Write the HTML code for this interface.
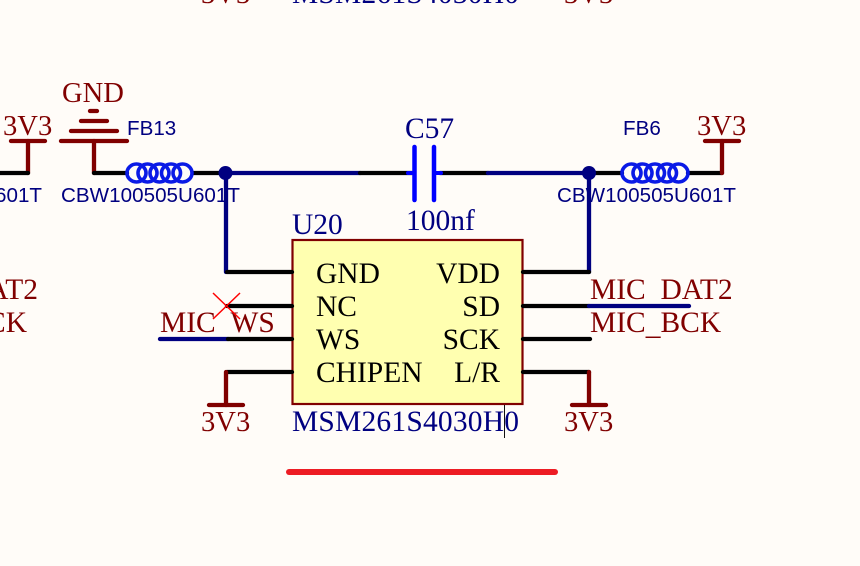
<!DOCTYPE html>
<html>
<head>
<meta charset="utf-8">
<style>
html,body{margin:0;padding:0;background:#fffcf8;width:860px;height:566px;overflow:hidden}
svg{display:block}
.s{font-family:"Liberation Serif",serif;font-size:29.5px}
.p{font-size:28.6px}
.a{font-family:"Liberation Sans",sans-serif;font-size:20.6px;fill:#000080}
.m{fill:#800000}.n{fill:#000080}.k{fill:#000}
.wk,.wn,.wm{fill:none;stroke-linecap:round;stroke-width:4.3}
.wk{stroke:#000}.wn{stroke:#000080}.wm{stroke:#800000}
.coil{fill:none;stroke:#0a1ae6;stroke-width:3.6}
</style>
</head>
<body>
<svg width="860" height="566" viewBox="0 0 860 566" xmlns="http://www.w3.org/2000/svg">
<rect width="860" height="566" fill="#fffcf8"/>

<!-- top clipped text -->
<text class="s p m" x="201" y="3">3V3</text>
<text class="s n" x="292" y="3" textLength="227">MSM261S4030H0</text>
<text class="s p m" x="564" y="3">3V3</text>

<!-- left clipped labels -->
<text class="s m" x="38" y="299" text-anchor="end">MIC_DAT2</text>
<text class="s m" x="27" y="332" text-anchor="end">MIC_BCK</text>
<text class="a" x="42" y="202" text-anchor="end">CBW100505U601T</text>

<!-- power symbols -->
<text class="s p m" x="3" y="135">3V3</text>
<line class="wm" x1="11" y1="141" x2="45" y2="141"/>
<line class="wm" x1="28" y1="141" x2="28" y2="173"/>
<line class="wk" x1="-5" y1="173" x2="28" y2="173"/>

<text class="s p m" x="62" y="102">GND</text>
<line class="wm" x1="61" y1="141" x2="127" y2="141"/>
<line class="wm" x1="71" y1="131" x2="117" y2="131"/>
<line class="wm" x1="81" y1="121" x2="107" y2="121"/>
<line class="wm" x1="90" y1="111" x2="97" y2="111"/>
<line class="wm" x1="94" y1="141" x2="94" y2="173"/>

<!-- top rail -->
<line class="wk" x1="94" y1="173" x2="127" y2="173"/>
<line class="wk" x1="193" y1="173" x2="225" y2="173"/>
<line class="wn" x1="225" y1="173" x2="360" y2="173"/>
<line class="wk" x1="360" y1="173" x2="412" y2="173"/>
<line class="wk" x1="440" y1="173" x2="488" y2="173"/>
<line class="wn" x1="488" y1="173" x2="589" y2="173"/>
<line class="wk" x1="589" y1="173" x2="622" y2="173"/>
<line class="wk" x1="688" y1="173" x2="722" y2="173"/>

<!-- FB13 -->
<text class="a" x="127" y="135">FB13</text>
<g class="coil">
<ellipse cx="136.500" cy="173" rx="9.500" ry="9"/>
<ellipse cx="147.500" cy="173" rx="9.500" ry="9"/>
<ellipse cx="159.500" cy="173" rx="9.500" ry="9"/>
<ellipse cx="171" cy="173" rx="9.500" ry="9"/>
<ellipse cx="182.500" cy="173" rx="9.500" ry="9"/>
</g>

<!-- FB6 -->
<text class="a" x="623" y="135">FB6</text>
<g class="coil">
<ellipse cx="631.500" cy="173" rx="9.500" ry="9"/>
<ellipse cx="642.500" cy="173" rx="9.500" ry="9"/>
<ellipse cx="655" cy="173" rx="9.500" ry="9"/>
<ellipse cx="667" cy="173" rx="9.500" ry="9"/>
<ellipse cx="678.500" cy="173" rx="9.500" ry="9"/>
</g>

<text class="s p m" x="697" y="135">3V3</text>
<line class="wm" x1="705" y1="141" x2="739" y2="141"/>
<line class="wm" x1="722" y1="141" x2="722" y2="173"/>

<!-- capacitor -->
<text class="s n" x="405" y="138">C57</text>
<text class="s n" x="406" y="230">100nf</text>
<g stroke="#0000ff" stroke-linecap="round" fill="none">
<line x1="414.500" y1="147" x2="414.500" y2="200" stroke-width="4.500"/>
<line x1="434" y1="147" x2="434" y2="200" stroke-width="4.500"/>
<line x1="408" y1="173" x2="414" y2="173" stroke-width="4"/>
<line x1="434" y1="173" x2="441" y2="173" stroke-width="4"/>
</g>

<!-- CBW labels -->
<text class="a" x="61" y="202" textLength="179">CBW100505U601T</text>
<text class="a" x="557" y="202" textLength="179">CBW100505U601T</text>

<!-- junctions and vertical nets -->
<line class="wn" x1="226" y1="173" x2="226" y2="272"/>
<line class="wn" x1="589" y1="173" x2="589" y2="272"/>
<circle cx="225.500" cy="173" r="7" fill="#000080"/>
<circle cx="589" cy="173" r="7" fill="#000080"/>

<!-- U20 -->
<text class="s n" x="292" y="234">U20</text>
<rect x="292.500" y="240" width="230" height="164" fill="#ffffb0" stroke="#800000" stroke-width="2.200"/>

<!-- net labels -->
<text class="s m" x="160" y="332">MIC<tspan dy="3">_</tspan><tspan dy="-3">WS</tspan></text>
<text class="s m" x="590" y="299">MIC<tspan dy="3">_</tspan><tspan dy="-3">DAT2</tspan></text>
<text class="s m" x="590" y="332">MIC<tspan dy="2">_</tspan><tspan dy="-2">BCK</tspan></text>

<!-- left pins -->
<line class="wk" x1="227" y1="272" x2="292" y2="272"/>
<line class="wk" x1="227" y1="306" x2="292" y2="306"/>
<line class="wn" x1="160" y1="339" x2="228" y2="339"/>
<line class="wk" x1="228" y1="339" x2="292" y2="339"/>
<line class="wk" x1="227" y1="372" x2="292" y2="372"/>
<line class="wm" x1="226" y1="372" x2="226" y2="405"/>
<line class="wm" x1="209" y1="405" x2="243" y2="405"/>
<text class="s p m" x="201" y="431">3V3</text>

<!-- no-connect X -->
<g stroke="#ff0000" stroke-width="1.500">
<line x1="213" y1="293" x2="240" y2="319"/>
<line x1="240" y1="293" x2="213" y2="319"/>
</g>

<!-- right pins -->
<line class="wk" x1="523" y1="272" x2="589" y2="272"/>
<line class="wk" x1="523" y1="306" x2="589" y2="306"/>
<line class="wn" x1="589" y1="306" x2="689" y2="306"/>
<line class="wk" x1="523" y1="339" x2="590" y2="339"/>
<line class="wk" x1="523" y1="372" x2="589" y2="372"/>
<line class="wm" x1="589" y1="372" x2="589" y2="405"/>
<line class="wm" x1="572" y1="405" x2="606" y2="405"/>
<text class="s p m" x="564" y="431">3V3</text>

<!-- pin names -->
<text class="s k" x="316" y="283">GND</text>
<text class="s k" x="316" y="316">NC</text>
<text class="s k" x="316" y="349">WS</text>
<text class="s k" x="316" y="382">CHIPEN</text>
<text class="s k" x="500" y="283" text-anchor="end">VDD</text>
<text class="s k" x="500" y="316" text-anchor="end">SD</text>
<text class="s k" x="500" y="349" text-anchor="end">SCK</text>
<text class="s k" x="500" y="382" text-anchor="end">L/R</text>

<text class="s n" x="292" y="431" textLength="227">MSM261S4030H0</text>
<line x1="504.500" y1="405" x2="504.500" y2="438" stroke="#111" stroke-width="1"/>

<!-- red underline -->
<line x1="289" y1="472" x2="555" y2="472" stroke="#ed1c24" stroke-width="6" stroke-linecap="round"/>
</svg>
</body>
</html>
